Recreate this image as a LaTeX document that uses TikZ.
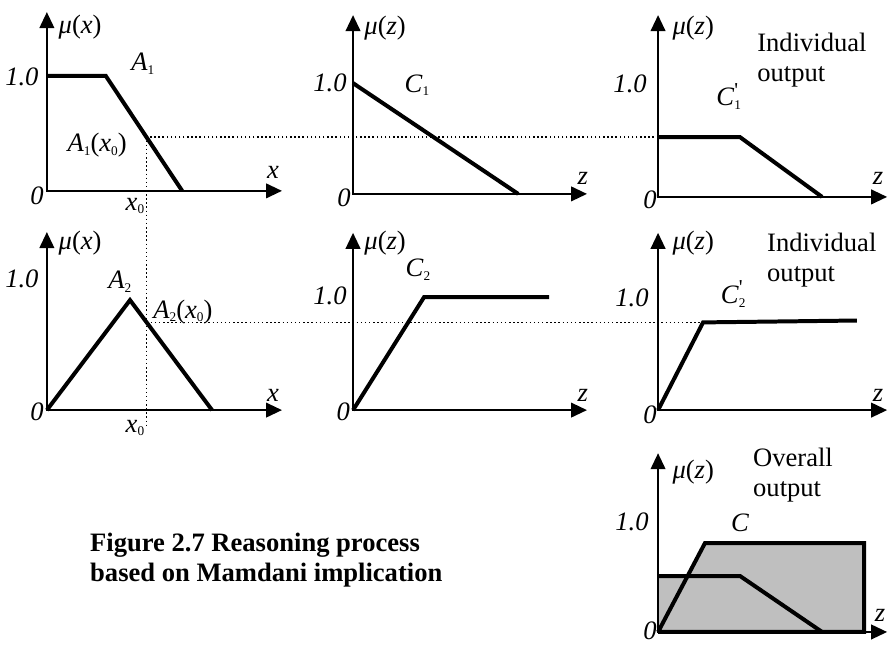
\documentclass[tikz,border=0pt]{standalone}
\usepackage{fontspec}
\setmainfont{Liberation Serif}
\usetikzlibrary{arrows.meta}

\newcommand{\SB}[1]{\raisebox{-0.3ex}{\fontsize{10}{10}\selectfont #1}}
\newcommand{\MUx}{{\itshape μ}(\textit{x})}
\newcommand{\MUz}{{\itshape μ}(\textit{z})}
\newcommand{\XZ}{\textit{x}\SB{0}}
\newcommand{\PRM}[2]{\textit{#1}\rlap{\raisebox{0.7ex}{\fontsize{16}{16}\selectfont\textquotesingle}}\SB{#2}}

\begin{document}
\begin{tikzpicture}[font=\fontsize{20}{24}\selectfont]
\tikzset{
    AX/.style={line width=1.5pt,
               {Triangle[length=12pt,width=11pt]}-{Triangle[length=12pt,width=11pt]}},
    MF/.style={line width=3pt, line join=miter},
    GD/.style={line width=1.1pt, dotted},
    LB/.style={inner sep=0pt},
    NUM/.style={inner sep=0pt, font=\fontsize{20}{24}\selectfont\itshape},
    OUT/.style={inner sep=0pt, align=left, anchor=west},
    CAP/.style={inner sep=0pt, align=left, anchor=west, font=\fontsize{20}{23}\selectfont\bfseries},
}
\useasboundingbox (0,0) rectangle (23.52,-17.04);

% Guide points
\coordinate (g1a) at (3.88, -3.63);
\coordinate (g1b) at (17.41, -3.63);
\coordinate (g2a) at (3.88, -8.53);
\coordinate (g2b) at (18.60, -8.53);
\coordinate (g0)  at (3.88, -11.30);

%── Row 1: A1 | C1 | C1' ────────────────────────────────────────
\draw[AX] (1.24, -0.32) -- (1.24, -5.05) -- (7.46, -5.05);
\draw[MF] (1.24, -2.01) -- (2.80, -2.01) -- (4.82, -5.05);
\node[LB]  (mux1) at (2.12, -0.71) {\MUx};
\node[LB]  (a1)   at (3.78, -1.69) {\textit{A}\SB{1}};
\node[NUM] (one1) at (0.58, -2.04) {1.0};
\node[LB]  (a1x)  at (2.57, -3.84) {\textit{A}\SB{1}(\XZ)};
\node[NUM] (xa1)  at (7.22, -4.55) {x};
\node[NUM] (zr1)  at (0.98, -5.19) {0};
\node[LB]  (x01)  at (3.57, -5.45) {\XZ};

\draw[AX] (9.34, -0.40) -- (9.34, -5.13) -- (15.53, -5.13);
\draw[MF] (9.34, -2.20) -- (13.71, -5.13);
\node[LB]  (muz1) at (10.19, -0.74) {\MUz};
\node[LB]  (c1)   at (11.03, -2.25) {\textit{C}\SB{1}};
\node[NUM] (one2) at (8.73, -2.20) {1.0};
\node[NUM] (za1)  at (15.42, -4.71) {z};
\node[NUM] (zr2)  at (9.10, -5.24) {0};

\draw[AX] (17.41, -0.40) -- (17.41, -5.21) -- (23.47, -5.21);
\draw[MF] (17.41, -3.63) -- (19.58, -3.63) -- (21.75, -5.21);
\node[LB]  (muz2) at (18.34, -0.74) {\MUz};
\node[OUT] (ind1) at (20.03, -1.59) {Individual\\[-2pt]output};
\node[NUM] (one3) at (16.67, -2.22) {1.0};
\node[LB]  (c1p)  at (19.28, -2.55) {\PRM{C}{1}};
\node[NUM] (za2)  at (23.23, -4.71) {z};
\node[NUM] (zr3)  at (17.20, -5.29) {0};

%── Row 2: A2 | C2 | C2' ────────────────────────────────────────
\draw[AX] (1.24, -6.14) -- (1.24, -10.85) -- (7.46, -10.85);
\draw[MF] (1.24, -10.85) -- (3.44, -7.94) -- (5.61, -10.85);
\node[LB]  (mux2) at (2.12, -6.43) {\MUx};
\node[LB]  (a2)   at (3.17, -7.46) {\textit{A}\SB{2}};
\node[NUM] (one4) at (0.58, -7.38) {1.0};
\node[LB]  (a2x)  at (4.84, -8.25) {\textit{A}\SB{2}(\XZ)};
\node[NUM] (xa2)  at (7.22, -10.45) {x};
\node[NUM] (zr4)  at (0.98, -10.90) {0};
\node[LB]  (x02)  at (3.57, -11.32) {\XZ};

\draw[AX] (9.34, -6.16) -- (9.34, -10.85) -- (15.53, -10.85);
\draw[MF] (9.34, -10.85) -- (11.22, -7.86) -- (14.53, -7.86);
\node[LB]  (muz3) at (10.19, -6.43) {\MUz};
\node[LB]  (c2)   at (11.06, -7.14) {\textit{C}\SB{2}};
\node[NUM] (one5) at (8.73, -7.83) {1.0};
\node[NUM] (za3)  at (15.42, -10.45) {z};
\node[NUM] (zr5)  at (9.08, -10.90) {0};

\draw[AX] (17.41, -6.16) -- (17.41, -10.85) -- (23.47, -10.85);
\draw[MF] (17.41, -10.85) -- (18.60, -8.53) -- (22.67, -8.48);
\node[LB]  (muz4) at (18.34, -6.43) {\MUz};
\node[OUT] (ind2) at (20.29, -6.88) {Individual\\[-2pt]output};
\node[NUM] (one6) at (16.72, -7.88) {1.0};
\node[LB]  (c2p)  at (19.40, -7.78) {\PRM{C}{2}};
\node[NUM] (za4)  at (23.23, -10.45) {z};
\node[NUM] (zr6)  at (17.20, -10.98) {0};

%── Dotted guides ───────────────────────────────────────────────
\draw[GD] (g1b) -- (g1a) -- (g0);
\draw[GD] (g2a) -- (g2b);

%── Row 3: overall output C ─────────────────────────────────────
\fill[gray!50] (17.41, -16.72) -- (17.41, -15.24) -- (18.19, -15.24) -- (18.65, -14.37)
               -- (22.86, -14.37) -- (22.86, -16.72) -- cycle;
\draw[MF] (17.41, -15.24) -- (19.58, -15.24) -- (21.75, -16.72);
\draw[MF] (17.41, -16.72) -- (18.65, -14.37) -- (22.86, -14.37) -- (22.86, -16.72) -- (17.41, -16.72);
\draw[AX] (17.41, -11.99) -- (17.41, -16.72) -- (23.47, -16.72);
\node[LB]  (muz5) at (18.34, -12.49) {\MUz};
\node[OUT] (ovr)  at (19.92, -12.57) {Overall\\[-2pt]output};
\node[NUM] (one7) at (16.72, -13.81) {1.0};
\node[LB]  (cc)   at (19.58, -13.84) {\textit{C}};
\node[NUM] (za5)  at (23.28, -16.27) {z};
\node[NUM] (zr7)  at (17.20, -16.68) {0};

%── Caption ─────────────────────────────────────────────────────
\node[CAP] (cap) at (2.38, -14.82) {Figure 2.7 Reasoning process\\ based on Mamdani implication};

\end{tikzpicture}
\end{document}
